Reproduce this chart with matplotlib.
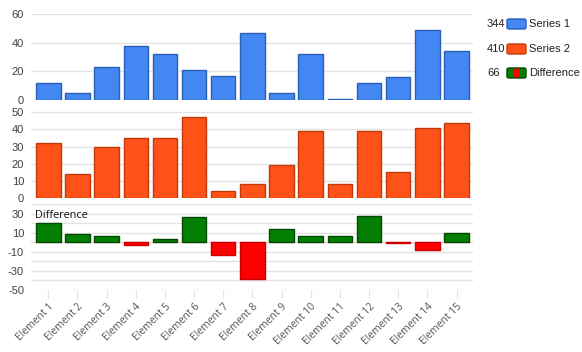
import matplotlib
matplotlib.use("Agg")
import matplotlib.pyplot as plt
from matplotlib.patches import FancyBboxPatch, Rectangle
import numpy as np

categories = [f"Element {i}" for i in range(1, 16)]
series1 = [12, 5, 23, 38, 32, 21, 17, 47, 5, 32, 1, 12, 16, 49, 34]
series2 = [32, 14, 30, 35, 35, 47, 4, 8, 19, 39, 8, 39, 15, 41, 44]
difference = [b - a for a, b in zip(series1, series2)]
series_names = ["Series 1", "Series 2", "Difference"]

W, H = 582, 352
fig = plt.figure(figsize=(W / 100, H / 100), dpi=100)

def px_axes(left, top, right, bottom):
    return fig.add_axes([left / W, 1 - bottom / H, (right - left) / W, (bottom - top) / H])

blue, blue_edge = "#4387f3", "#2a5fb8"
orange, orange_edge = "#ff5219", "#c23a0c"
green, green_edge = "#037f03", "#024a02"
red, red_edge = "#ff0000", "#c80000"
grid_c = "#e3e3e3"
tick_c = "#404040"
fn = "Liberation Sans"

x = np.arange(len(categories))
XMIN, XMAX = -0.593, 14.565
BW = 0.84

def style(ax, ylim, yticks, grid):
    ax.set_xlim(XMIN, XMAX)
    ax.set_ylim(*ylim)
    for s in ax.spines.values():
        s.set_visible(False)
    for g in grid:
        ax.axhline(g, color=grid_c, lw=1, zorder=0)
    ax.set_yticks(yticks)
    ax.set_yticklabels([str(t) for t in yticks], fontsize=8, color=tick_c, family=fn)
    ax.tick_params(axis="y", length=0, pad=5)
    ax.set_xticks([])
    ax.set_facecolor("none")

ax1 = px_axes(31, 14, 473, 100)
style(ax1, (0, 60), [0, 20, 40, 60], [0, 20, 40, 60])
ax1.bar(x, series1, width=BW, color=blue, edgecolor=blue_edge, linewidth=1, zorder=2)

ax2 = px_axes(31, 101, 473, 198)
style(ax2, (0, 56.6), [0, 10, 20, 30, 40, 50], [0, 10, 20, 30, 40, 50])
ax2.bar(x, series2, width=BW, color=orange, edgecolor=orange_edge, linewidth=1, zorder=2)

ax3 = px_axes(31, 204, 473, 290)
style(ax3, (-50, 40), [-50, -30, -10, 10, 30], list(range(-50, 50, 10)))
ax3.axhline(0, color="#ffd0d0", lw=1, zorder=1)
cols = [green if d >= 0 else red for d in difference]
edges = [green_edge if d >= 0 else red_edge for d in difference]
ax3.bar(x, difference, width=BW, color=cols, edgecolor=edges, linewidth=1, zorder=2)
ax3.text(4 / 442, 1 - 11 / 86, "Difference", transform=ax3.transAxes, fontsize=7.8,
         family="Open Sans", color="#111111", va="center", ha="left")

# x tick marks and labels
ax3.set_xticks(x)
ax3.set_xticklabels(categories, rotation=45, ha="right", rotation_mode="anchor",
                    fontsize=7.4, color="#555555", family="Open Sans")
ax3.tick_params(axis="x", length=6, color=grid_c, pad=2)

# legend
def legend_row(ypx, value, name, kind):
    fig.text(487 / W, 1 - ypx / H, str(value), ha="left", va="center",
             fontsize=8, family=fn, color="#222222")
    bx, bw, bh = 507, 19, 10
    by = ypx + bh / 2
    if kind == "diff":
        for i, c in enumerate([green, red, green]):
            fig.patches.append(Rectangle(((bx + i * bw / 3) / W, 1 - by / H), (bw / 3) / W, bh / H,
                                         transform=fig.transFigure, facecolor=c, edgecolor="none"))
        fig.patches.append(FancyBboxPatch((bx / W, 1 - by / H), bw / W, bh / H,
                                          boxstyle="round,pad=0,rounding_size=0.004",
                                          transform=fig.transFigure, facecolor="none",
                                          edgecolor=green_edge, lw=1))
    else:
        fc, ec = kind
        fig.patches.append(FancyBboxPatch((bx / W, 1 - by / H), bw / W, bh / H,
                                          boxstyle="round,pad=0,rounding_size=0.004",
                                          transform=fig.transFigure, facecolor=fc,
                                          edgecolor=ec, lw=1))
    fig.text(529 / W, 1 - ypx / H, name, ha="left", va="center",
             fontsize=8, family=fn, color="#222222")

legend_row(24, sum(series1), series_names[0], (blue, blue_edge))
legend_row(49, sum(series2), series_names[1], (orange, orange_edge))
legend_row(73, sum(difference), series_names[2], "diff")

fig.savefig("out.png", dpi=100, facecolor="white")
